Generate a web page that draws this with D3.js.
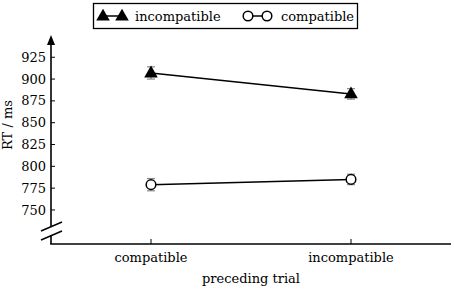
<!DOCTYPE html>
<html>
<head>
<meta charset="utf-8">
<script src="https://cdn.jsdelivr.net/npm/d3@7/dist/d3.min.js"></script>
<style>
body{margin:0;background:#fff;}
text{font-family:"DejaVu Serif",serif;fill:#000;}
</style>
</head>
<body>
<div id="chart"></div>
<script>
// data
var categories=["compatible","incompatible"];
var incompMean=[907,883];
var incompErr=[7,6];
var compMean=[779,785];
var compErr=[7,6];
var yTicks=[750,775,800,825,850,875,900,925];
var seriesNames=["incompatible","compatible"];

var W=454,H=290;
var svg=d3.select("#chart").append("svg").attr("width",W).attr("height",H);

var x0=51,x1=451,yBase=244,yTop=35;
var x=d3.scalePoint().domain(categories).range([x0,x1]).padding(0.5);
var y=d3.scaleLinear().domain([711,950.5]).range([yBase,yTop]);

var g=svg.append("g");

// y axis line with break
g.append("line").attr("x1",x0).attr("x2",x0).attr("y1",yBase).attr("y2",235).attr("stroke","#000").attr("stroke-width",1.6);
g.append("line").attr("x1",x0).attr("x2",x0).attr("y1",226).attr("y2",yTop+6).attr("stroke","#000").attr("stroke-width",1.6);
g.append("path").attr("d","M"+x0+","+(yTop)+"L"+(x0-4)+","+(yTop+10)+"L"+(x0+4)+","+(yTop+10)+"Z").attr("fill","#000");
[0,9].forEach(function(o){
  g.append("line").attr("x1",x0-10).attr("y1",231+o).attr("x2",x0+11).attr("y2",222+o).attr("stroke","#000").attr("stroke-width",1.5);
});
// x axis line
g.append("line").attr("x1",x0-0.8).attr("x2",x1).attr("y1",yBase).attr("y2",yBase).attr("stroke","#000").attr("stroke-width",1.6);

// y ticks
yTicks.forEach(function(t){
  g.append("line").attr("x1",x0).attr("x2",x0+4).attr("y1",y(t)).attr("y2",y(t)).attr("stroke","#000").attr("stroke-width",1);
  g.append("text").attr("x",x0-5).attr("y",y(t)).attr("dy","0.35em").attr("text-anchor","end").style("font-size","13px").text(t);
});
// x ticks
categories.forEach(function(c){
  g.append("line").attr("x1",x(c)).attr("x2",x(c)).attr("y1",yBase).attr("y2",yBase-5).attr("stroke","#000").attr("stroke-width",1);
  g.append("text").attr("x",x(c)).attr("y",yBase+18).attr("text-anchor","middle").style("font-size","13px").text(c);
});

g.append("text").attr("x",251).attr("y",283).attr("text-anchor","middle").style("font-size","13px").text("preceding trial");
g.append("text").attr("transform","translate(12,"+(125)+") rotate(-90)").attr("text-anchor","middle").style("font-size","13px").text("RT / ms");

function series(mean,err,kind){
  var pts=categories.map(function(c,i){return {x:x(c),y:y(mean[i]),lo:y(mean[i]-err[i]),hi:y(mean[i]+err[i])};});
  var line=d3.line().x(function(d){return d.x;}).y(function(d){return d.y;});
  g.append("path").attr("d",line(pts)).attr("fill","none").attr("stroke","#000").attr("stroke-width",1.5);
  pts.forEach(function(p){
    var e=g.append("g").attr("stroke","#888").attr("stroke-width",1.2);
    e.append("line").attr("x1",p.x).attr("x2",p.x).attr("y1",p.lo).attr("y2",p.hi);
    e.append("line").attr("x1",p.x-4).attr("x2",p.x+4).attr("y1",p.lo).attr("y2",p.lo);
    e.append("line").attr("x1",p.x-4).attr("x2",p.x+4).attr("y1",p.hi).attr("y2",p.hi);
    marker(g,p.x,p.y,kind);
  });
}
function marker(sel,cx,cy,kind){
  if(kind=="tri"){
    sel.append("path").attr("d",d3.symbol().type(d3.symbolTriangle).size(80)()).attr("transform","translate("+cx+","+(cy+0.5)+")").attr("fill","#000");
  }else{
    sel.append("circle").attr("cx",cx).attr("cy",cy).attr("r",4.8).attr("fill","#fff").attr("stroke","#000").attr("stroke-width",1.5);
  }
}
series(incompMean,incompErr,"tri");
series(compMean,compErr,"circ");

// legend
var lg=svg.append("g");
lg.append("rect").attr("x",93.5).attr("y",3.5).attr("width",264).attr("height",25).attr("fill","#fff").attr("stroke","#000").attr("stroke-width",1.3);
var items=[{name:seriesNames[0],kind:"tri",x:103,tx:135},{name:seriesNames[1],kind:"circ",x:248,tx:281}];
items.forEach(function(it){
  lg.append("line").attr("x1",it.x).attr("x2",it.x+19).attr("y1",16).attr("y2",16).attr("stroke","#000").attr("stroke-width",1.5);
  marker(lg,it.x,16,it.kind);
  marker(lg,it.x+19,16,it.kind);
  lg.append("text").attr("x",it.tx).attr("y",16).attr("dy","0.35em").style("font-size","13px").text(it.name);
});
</script>
</body>
</html>
